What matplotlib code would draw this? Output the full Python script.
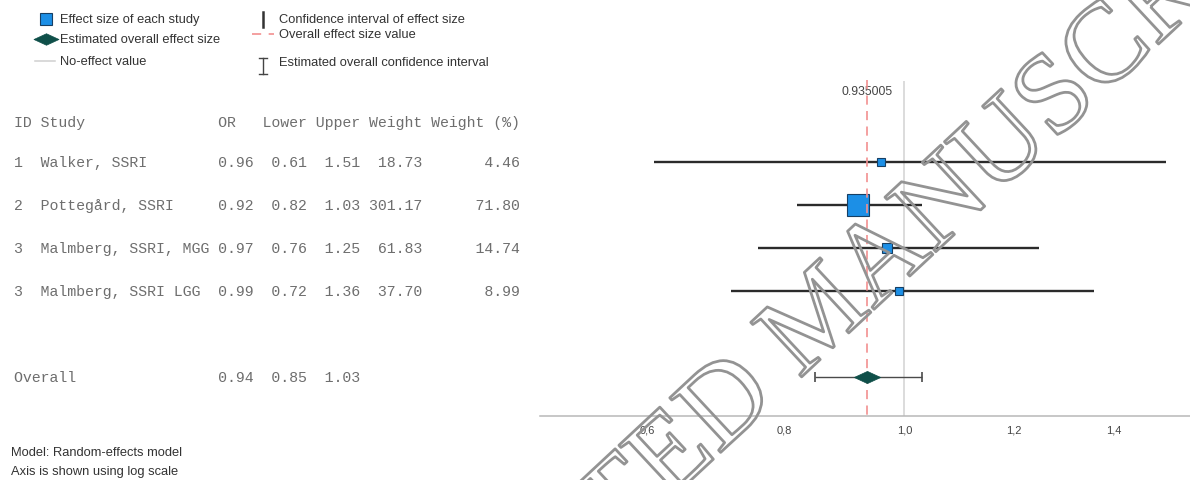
import numpy as np
import matplotlib
matplotlib.use("Agg")
import matplotlib.pyplot as plt
import matplotlib.transforms as mtransforms
from matplotlib.path import Path
from matplotlib import patheffects

# study table
study_ids = ["1", "2", "3", "3"]
studies = ["Walker, SSRI", "Pottegård, SSRI", "Malmberg, SSRI, MGG", "Malmberg, SSRI LGG"]
odds = [0.96, 0.92, 0.97, 0.99]
lower = [0.61, 0.82, 0.76, 0.72]
upper = [1.51, 1.03, 1.25, 1.36]
weight = [18.73, 301.17, 61.83, 37.70]
weight_pct = [4.46, 71.80, 14.74, 8.99]

# pooled estimate
overall_or = 0.935005
overall_lower = 0.85
overall_upper = 1.03
no_effect = 1.0

tick_values = [0.6, 0.8, 1.0, 1.2, 1.4]

W, H = 1190, 481
fig = plt.figure(figsize=(W / 100, H / 100), dpi=100)

# pixel-space layer for legend, table and notes
bg = fig.add_axes([0, 0, 1, 1])
bg.set_xlim(0, W)
bg.set_ylim(H, 0)
bg.axis("off")

# forest plot panel
x0, y_axis = 540.5, 416.7
ax = fig.add_axes([x0 / W, (H - y_axis) / H, 1 - x0 / W, y_axis / H])
ax.patch.set_alpha(0)
ax.set_xscale("function", functions=(np.sqrt, np.square))
ax.set_xlim(0.4645, 1.562)
ax.set_ylim(6.89, -2.79)

rows = np.arange(1, len(studies) + 1)
overall_row = len(studies) + 2

ax.vlines(no_effect, -0.886, 6.89, color="#d2d2d2", lw=1.1, zorder=1)
ax.hlines(rows, lower, upper, color="#2b2b2b", lw=1.7, zorder=2)
for r, o, p in zip(rows, odds, weight_pct):
    size_px = 7 + 0.195 * p
    ax.plot(o, r, marker="s", ms=size_px * 0.72, mfc="#1c8fe6", mec="#173f63",
            mew=0.8, zorder=3)

ax.errorbar(overall_or, overall_row,
            xerr=[[overall_or - overall_lower], [overall_upper - overall_or]],
            fmt="none", ecolor="#4a4a4a", elinewidth=1.0, capsize=3.6,
            capthick=1.2, zorder=2)
diamond = Path([(-1, 0), (0, 0.46), (1, 0), (0, -0.46), (-1, 0)],
               [Path.MOVETO, Path.LINETO, Path.LINETO, Path.LINETO, Path.CLOSEPOLY])
ax.plot(overall_or, overall_row, marker=diamond, ms=19, mfc="#0f4f49",
        mec="#0f4f49", mew=0.5, zorder=6)

ax.text(overall_or, -0.66, f"{overall_or:.6f}", ha="center", va="center",
        fontsize=8.8, color="#444444", family="Liberation Sans", zorder=3)
ax.vlines(overall_or, -0.9, 6.89, color="#f29090", lw=1.2,
          linestyles=(0, (5.5, 3.8)), zorder=5)

for s in ["top", "right", "left"]:
    ax.spines[s].set_visible(False)
ax.spines["bottom"].set_color("#b8b8b8")
ax.spines["bottom"].set_linewidth(1.1)
ax.set_yticks([])
ax.set_xticks(tick_values)
ax.set_xticklabels([f"{v:.1f}".replace(".", ",") for v in tick_values])
ax.xaxis.set_minor_locator(matplotlib.ticker.NullLocator())
ax.tick_params(axis="x", length=0, pad=6, labelsize=8, labelcolor="#444444")
for lab in ax.get_xticklabels():
    lab.set_family("Liberation Sans")

# table to the left, rows share the plot's y positions
tbl = mtransforms.blended_transform_factory(bg.transData, ax.transData)
mono = dict(family="Liberation Mono", fontsize=10.7, color="#6e6e6e",
            va="center", ha="left", transform=tbl)
header = f"{'ID':<3}{'Study':<20}{'OR':<5}{'Lower':<6}{'Upper':<6}{'Weight':<7}Weight (%)"
bg.text(13.5, 0.06, header, **mono)
for r, sid, name, o, lo, hi, w, p in zip(rows, study_ids, studies, odds, lower,
                                         upper, weight, weight_pct):
    line = f"{sid:<3}{name:<20}{o:.2f}  {lo:.2f}  {hi:.2f}{w:7.2f}{p:11.2f}"
    bg.text(13.5, r, line, **mono)
bg.text(13.5, overall_row,
        f"{'Overall':<23}{overall_or:.2f}  {overall_lower:.2f}  {overall_upper:.2f}",
        **mono)

# legend
sans = dict(family="Liberation Sans", fontsize=9.3, color="#333333", va="center", ha="left")
bg.plot(46, 20, marker="s", ms=8.6, mfc="#1c8fe6", mec="#173f63", mew=0.8)
bg.plot(46, 40, marker=diamond, ms=18, mfc="#0f4f49", mec="#0f4f49", mew=0.5)
bg.plot([35, 55], [62, 62], color="#cfcfcf", lw=1.1)
bg.text(60, 20, "Effect size of each study", **sans)
bg.text(60, 40, "Estimated overall effect size", **sans)
bg.text(60, 62, "No-effect value", **sans)

bg.plot([262.5, 262.5], [13, 28], color="#333333", lw=1.8)
bg.plot([252, 274], [34.5, 34.5], color="#f29090", lw=1.2, ls=(0, (5.5, 4.5)))
bg.plot([263, 263], [59, 75], color="#444444", lw=1.0)
bg.plot([259, 267], [59, 59], color="#444444", lw=1.0)
bg.plot([259, 267], [75, 75], color="#444444", lw=1.0)
bg.text(279, 20, "Confidence interval of effect size", **sans)
bg.text(279, 35, "Overall effect size value", **sans)
bg.text(279, 63, "Estimated overall confidence interval", **sans)

# notes
bg.text(11, 453, "Model: Random-effects model", **sans)
bg.text(11, 472, "Axis is shown using log scale", **sans)

# watermark
fig.text(823 / W, 1 - 320 / H, "ACCEPTED MANUSCRIPT", family="Liberation Serif",
         fontsize=82, rotation=43, rotation_mode="anchor", ha="center",
         va="center", color=(1, 1, 1, 0), zorder=10,
         path_effects=[patheffects.Stroke(linewidth=2.0, foreground="#939393")])

fig.savefig("out.png", dpi=100)
